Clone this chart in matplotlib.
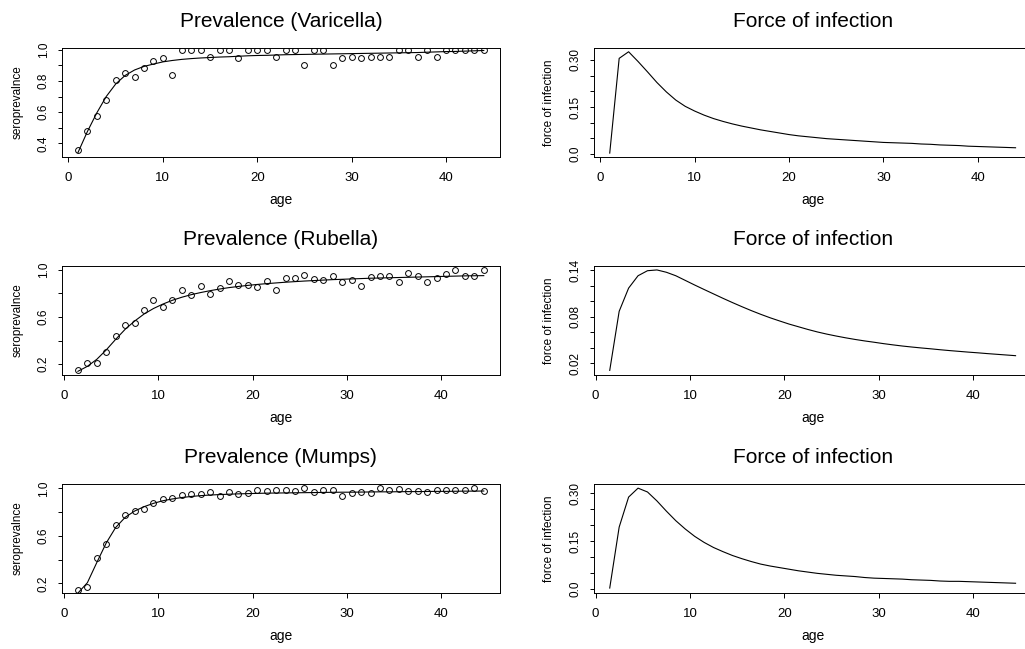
import numpy as np
import matplotlib
matplotlib.use("Agg")
import matplotlib.pyplot as plt

OUT_PNG = "out.png"

plt.rcParams["font.family"] = ["Liberation Sans", "DejaVu Sans"]

# ---- data ----
AGE_VAR = list(range(1, 45))
AGE_HALF = [a + 0.5 for a in range(1, 45)]

VAR_OBS = [0.357, 0.478, 0.575, 0.68, 0.803, 0.85, 0.825, 0.884, 0.926, 0.947,
           0.835, 1.0, 1.0, 1.0, 0.953, 1.0, 1.0, 0.947, 1.0, 1.0,
           1.0, 0.953, 1.0, 1.0, 0.90, 1.0, 1.0, 0.90, 0.95, 0.953,
           0.95, 0.953, 0.953, 0.953, 1.0, 1.0, 0.953, 1.0, 0.953, 1.0,
           1.0, 1.0, 1.0, 1.0]
VAR_FIT = [0.34, 0.475, 0.595, 0.70, 0.78, 0.835, 0.87, 0.893, 0.908, 0.922,
           0.931, 0.938, 0.943, 0.947, 0.950, 0.953, 0.955, 0.958, 0.961, 0.963,
           0.964, 0.966, 0.968, 0.969, 0.970, 0.971, 0.972, 0.973, 0.974, 0.975,
           0.976, 0.977, 0.978, 0.979, 0.980, 0.981, 0.982, 0.984, 0.986, 0.988,
           0.989, 0.991, 0.993, 0.995]
VAR_FOI = [0.003, 0.305, 0.326, 0.295, 0.262, 0.228, 0.198, 0.172, 0.152, 0.137,
           0.124, 0.113, 0.104, 0.096, 0.089, 0.083, 0.077, 0.072, 0.067, 0.062,
           0.058, 0.055, 0.052, 0.049, 0.047, 0.045, 0.043, 0.041, 0.039, 0.037,
           0.036, 0.035, 0.034, 0.032, 0.031, 0.029, 0.028, 0.027, 0.025, 0.024,
           0.023, 0.022, 0.021, 0.020]

RUB_OBS = [0.152, 0.208, 0.205, 0.303, 0.435, 0.534, 0.551, 0.663, 0.747, 0.688,
           0.747, 0.829, 0.784, 0.86, 0.792, 0.848, 0.904, 0.874, 0.876, 0.857,
           0.904, 0.834, 0.933, 0.93, 0.958, 0.927, 0.913, 0.95, 0.899, 0.913,
           0.865, 0.938, 0.95, 0.95, 0.902, 0.975, 0.95, 0.902, 0.935, 0.963,
           1.0, 0.952, 0.95, 1.0]
RUB_FIT = [0.138, 0.18, 0.24, 0.32, 0.41, 0.495, 0.565, 0.625, 0.672, 0.71,
           0.742, 0.768, 0.79, 0.808, 0.824, 0.838, 0.85, 0.86, 0.869, 0.877,
           0.884, 0.89, 0.896, 0.901, 0.906, 0.91, 0.914, 0.918, 0.921, 0.924,
           0.927, 0.93, 0.932, 0.934, 0.936, 0.938, 0.94, 0.942, 0.944, 0.946,
           0.948, 0.95, 0.951, 0.952]
RUB_FOI = [0.0106, 0.087, 0.117, 0.133, 0.1395, 0.1405, 0.1375, 0.133, 0.127, 0.121,
           0.1152, 0.1095, 0.1038, 0.0983, 0.093, 0.0879, 0.0831, 0.0786, 0.0745, 0.0705,
           0.067, 0.0635, 0.0603, 0.0575, 0.055, 0.0527, 0.0506, 0.0487, 0.047, 0.0452,
           0.0436, 0.0421, 0.0408, 0.0396, 0.0385, 0.0373, 0.0362, 0.0352, 0.0342, 0.0333,
           0.0323, 0.0314, 0.0305, 0.0296]

MUM_OBS = [0.144, 0.169, 0.414, 0.535, 0.693, 0.777, 0.806, 0.823, 0.873, 0.913,
           0.921, 0.944, 0.952, 0.949, 0.972, 0.932, 0.966, 0.955, 0.963, 0.989,
           0.975, 0.989, 0.983, 0.977, 1.0, 0.966, 0.983, 0.983, 0.938, 0.958,
           0.966, 0.958, 1.0, 0.983, 0.992, 0.977, 0.975, 0.966, 0.983, 0.989,
           0.989, 0.983, 1.0, 0.98]
MUM_FIT = [0.118, 0.205, 0.375, 0.54, 0.67, 0.755, 0.808, 0.845, 0.873, 0.895,
           0.91, 0.922, 0.931, 0.938, 0.943, 0.947, 0.95, 0.953, 0.955, 0.957,
           0.959, 0.96, 0.961, 0.962, 0.963, 0.964, 0.965, 0.966, 0.967, 0.967,
           0.968, 0.969, 0.97, 0.97, 0.971, 0.972, 0.972, 0.973, 0.974, 0.974,
           0.975, 0.976, 0.976, 0.977]
MUM_FOI = [0.003, 0.194, 0.288, 0.316, 0.304, 0.276, 0.244, 0.214, 0.188, 0.165,
           0.146, 0.130, 0.117, 0.105, 0.095, 0.086, 0.078, 0.072, 0.067, 0.062,
           0.057, 0.053, 0.049, 0.046, 0.043, 0.041, 0.039, 0.036, 0.034, 0.033,
           0.032, 0.031, 0.029, 0.028, 0.027, 0.025, 0.024, 0.024, 0.023, 0.022,
           0.021, 0.020, 0.019, 0.018]

X_TICKS = [0, 10, 20, 30, 40]

PREV_TICKS_VAR = [0.4, 0.5, 0.6, 0.7, 0.8, 0.9, 1.0]
PREV_LABELS_VAR = ["0.4", "", "0.6", "", "0.8", "", "1.0"]
PREV_TICKS = [0.2, 0.4, 0.6, 0.8, 1.0]
PREV_LABELS = ["0.2", "", "0.6", "", "1.0"]
FOI_TICKS = [0.0, 0.05, 0.10, 0.15, 0.20, 0.25, 0.30]
FOI_LABELS = ["0.0", "", "", "0.15", "", "", "0.30"]
FOI_TICKS_RUB = [0.02, 0.04, 0.06, 0.08, 0.10, 0.12, 0.14]
FOI_LABELS_RUB = ["0.02", "", "", "0.08", "", "", "0.14"]

# ---- layout (pixels -> figure fractions) ----
W, H = 1025, 649
ROW_TOPS = [48, 266, 484]
BOX_H = 108.7
LEFT_X = 61.7
RIGHT_X = 593.5
BOX_W = 438.3


def style_axes(ax, yticks, ylabels, ylim, ylabel, title):
    ax.set_title(title, fontsize=15, pad=15)
    ax.margins(x=0.04)
    ax.set_ylim(*ylim)
    ax.set_xticks(X_TICKS)
    ax.set_yticks(yticks)
    ax.set_yticklabels(ylabels, rotation=90, va="center")
    ax.tick_params(axis="both", direction="out", length=4.5 * 0.72, width=0.7)
    ax.tick_params(axis="x", labelsize=9.5, pad=8)
    ax.tick_params(axis="y", labelsize=8.5, pad=5.5)
    ax.set_xlabel("age", fontsize=10)
    ax.set_ylabel(ylabel, fontsize=8.5)
    ax.xaxis.set_label_coords(0.5, -0.33)
    ax.yaxis.set_label_coords(-0.088, 0.5)
    for sp in ax.spines.values():
        sp.set_linewidth(0.7)


def make_ax(fig, x_px, row):
    top = ROW_TOPS[row]
    return fig.add_axes([x_px / W, 1 - (top + BOX_H) / H, BOX_W / W, BOX_H / H])


fig = plt.figure(figsize=(W / 100, H / 100), dpi=100)

prev_sets = [
    ("Prevalence (Varicella)", AGE_VAR, VAR_OBS, VAR_FIT, PREV_TICKS_VAR, PREV_LABELS_VAR, (0.314, 1.011)),
    ("Prevalence (Rubella)", AGE_HALF, RUB_OBS, RUB_FIT, PREV_TICKS, PREV_LABELS, (0.109, 1.034)),
    ("Prevalence (Mumps)", AGE_HALF, MUM_OBS, MUM_FIT, PREV_TICKS, PREV_LABELS, (0.121, 1.036)),
]
foi_sets = [
    (AGE_VAR, VAR_FOI, FOI_TICKS, FOI_LABELS, (-0.0085, 0.338)),
    (AGE_HALF, RUB_FOI, FOI_TICKS_RUB, FOI_LABELS_RUB, (0.005, 0.1456)),
    (AGE_HALF, MUM_FOI, FOI_TICKS, FOI_LABELS, (-0.0116, 0.329)),
]

for row in range(3):
    title, age, obs, fit, yt, yl, ylim = prev_sets[row]
    ax = make_ax(fig, LEFT_X, row)
    ax.plot(age, obs, linestyle="none", marker="o", markersize=4.2,
            markerfacecolor="none", markeredgecolor="black", markeredgewidth=0.7)
    ax.plot(age, fit, color="black", linewidth=0.8)
    style_axes(ax, yt, yl, ylim, "seroprevalnce", title)

    age, foi, yt, yl, ylim = foi_sets[row]
    ax = make_ax(fig, RIGHT_X, row)
    ax.plot(age, foi, color="black", linewidth=0.8)
    style_axes(ax, yt, yl, ylim, "force of infection", "Force of infection")

fig.savefig(OUT_PNG, dpi=100)
